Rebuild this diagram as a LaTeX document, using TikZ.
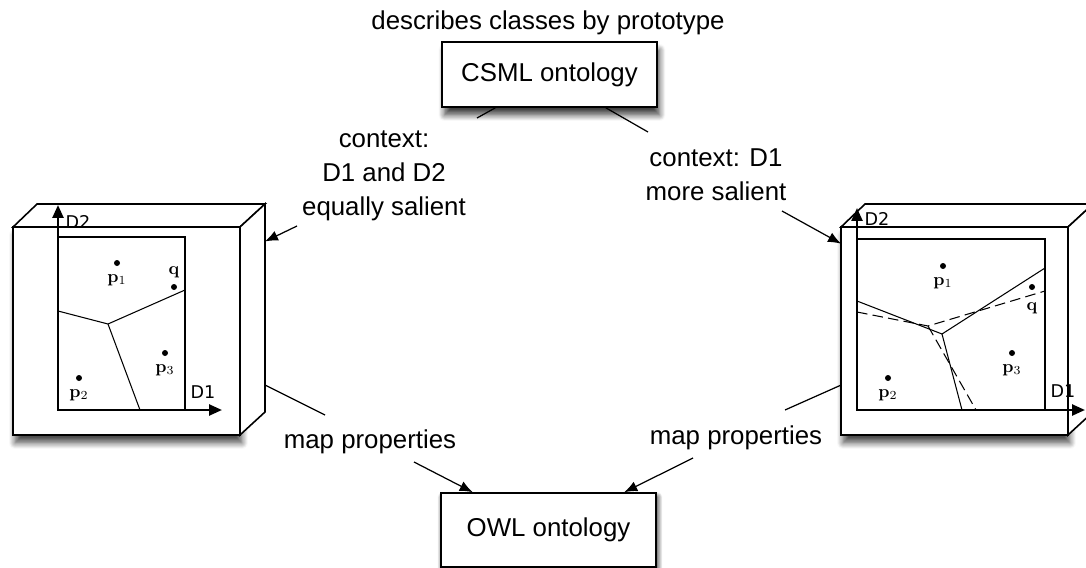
\documentclass[tikz,border=0pt]{standalone}
\usepackage[no-math]{fontspec}
\setmainfont{Liberation Sans}
\newfontfamily\plotfont{DejaVu Sans}
\usetikzlibrary{positioning, calc, arrows.meta, shadows, shadows.blur}

\begin{document}
\begin{tikzpicture}[
	x=0.02cm, y=-0.02cm,
	onto/.style={rectangle, draw, line width=0.9pt, fill=white, inner sep=0pt, minimum width=4.3cm, font=\fontsize{14.7}{18}\selectfont, blur shadow={shadow xshift=0.5mm, shadow yshift=-1.6mm, shadow opacity=75, shadow blur radius=1.2mm, shadow blur steps=8}},
	textb/.style={align=center, inner sep=0pt, font=\fontsize{14.7}{19.5}\selectfont},
	face/.style={draw, line width=0.9pt, fill=white, outer sep=0pt},
	axisline/.style={line width=1.4pt, -{Triangle[length=2.6mm, width=2.2mm]}},
	cell/.style={line width=0.6pt},
	ptdot/.style={circle, fill, inner sep=0pt, minimum size=1.2mm},
	ptname/.style={inner sep=0pt, font=\fontsize{10}{11}\selectfont},
	axname/.style={inner sep=0pt, font=\plotfont\fontsize{10}{11}\selectfont},
	>={Latex[length=2.6mm, width=2.1mm]}
]
\clip (0,0) rectangle (1086,568);

% top and bottom ontologies
\node[textb] (title) at (548,23) {describes classes by prototype};
\node[onto, minimum height=1.3cm] (csml) at (549.5,74.5) {CSML ontology};
\node[onto, minimum height=1.48cm, blur shadow={shadow xshift=0.3mm, shadow yshift=-0.8mm, shadow opacity=55, shadow blur radius=1mm}] (owl) at (548.5,530) {OWL ontology};

% left conceptual space
\node[face, minimum width=4.54cm, minimum height=4.16cm, blur shadow={shadow xshift=0.4mm, shadow yshift=-1.6mm, shadow opacity=70, shadow blur radius=1.2mm, shadow blur steps=8}] (lcube) at (126.5,331) {};
\draw[face] (lcube.north west) -- ++(24,-23) -- ++(228,0) -- (lcube.north east) -- cycle;
\draw[face] (lcube.north east) -- ++(25,-23) -- ++(0,208) -- (lcube.south east) -- cycle;
\coordinate (lback) at ($(lcube.north east)+(25,-23)$);
\coordinate (lbacklow) at ($(lcube.south east)+(25,-23)$);

\draw[cell, line width=0.8pt] (58,237) rectangle (185,410);
\draw[cell] (58,311) -- (108,324) -- (185,290);
\draw[cell] (108,324) -- (140,410);
\draw[axisline] (58,410) -- (58,205);
\draw[axisline] (58,410) -- (222,410);
\node[axname] (ld2) at (78,222) {D2};
\node[axname] (ld1) at (203,392) {D1};

\node[ptdot] (lp1) at (117,263) {};
\node[ptname, below=1.5mm of lp1] {$\mathbf{p}_1$};
\node[ptdot] (lq) at (174,287) {};
\node[ptname, above=1.1mm of lq] {$\mathbf{q}$};
\node[ptdot] (lp3) at (165,353) {};
\node[ptname, below=1.5mm of lp3] {$\mathbf{p}_3$};
\node[ptdot] (lp2) at (79,378) {};
\node[ptname, below=1.5mm of lp2] {$\mathbf{p}_2$};

% right conceptual space
\node[face, minimum width=4.54cm, minimum height=4.16cm, blur shadow={shadow xshift=0.4mm, shadow yshift=-1.6mm, shadow opacity=70, shadow blur radius=1.2mm, shadow blur steps=8}] (rcube) at (954.5,331) {};
\draw[face] (rcube.north west) -- ++(24,-23) -- ++(228,0) -- (rcube.north east) -- cycle;
\draw[face] (rcube.north east) -- ++(25,-23) -- ++(0,208) -- (rcube.south east) -- cycle;

\draw[cell, line width=0.8pt] (857,239) rectangle (1045,410);
\draw[cell] (857,301) -- (942,334) -- (1045,268);
\draw[cell] (942,334) -- (962,410);
\draw[cell, dashed, dash pattern=on 6pt off 3pt] (857,312) -- (928,326) -- (1045,291);
\draw[cell, dashed, dash pattern=on 6pt off 3pt] (928,326) -- (976,410);
\draw[axisline] (857,410) -- (857,208);
\draw[axisline] (857,410) -- (1085,410);
\node[axname] (rd2) at (877,219) {D2};
\node[axname] (rd1) at (1063,391) {D1};

\node[ptdot] (rp1) at (943,266) {};
\node[ptname, below=1.5mm of rp1] {$\mathbf{p}_1$};
\node[ptdot] (rq) at (1032,287) {};
\node[ptname, below=2.3mm of rq] {$\mathbf{q}$};
\node[ptdot] (rp3) at (1012,353) {};
\node[ptname, below=1.5mm of rp3] {$\mathbf{p}_3$};
\node[ptdot] (rp2) at (888,378) {};
\node[ptname, below=1.5mm of rp2] {$\mathbf{p}_2$};

% labels
\node[textb] (ctxleft) at (384,176) {context:\\D1 and D2\\equally salient};
\node[textb] (ctxright) at (716,175) {context: D1\\more salient};
\node[textb] (mapleft) at (370,442) {map properties};
\node[textb] (mapright) at (736,438) {map properties};

\coordinate (csmlleft) at (477,118);
\coordinate (csmlright) at (648,132);
\coordinate (ctxlefttail) at (297,226);
\coordinate (ctxrighttail) at (782,211);
\coordinate (mapleftend) at (325,415);
\coordinate (maplefttail) at (414,462);
\coordinate (maprightend) at (785,410);
\coordinate (maprighttail) at (693,458);

\draw[line width=0.7pt] ($(csml.south west)!0.25!(csml.south east)$) -- (csmlleft);
\draw[line width=0.7pt] ($(csml.south west)!0.76!(csml.south east)$) -- (csmlright);
\draw[->, line width=0.7pt] (ctxlefttail) -- ($(lback)!0.18!(lbacklow)$);
\draw[->, line width=0.7pt] (ctxrighttail) -- ($(rcube.north west)!0.08!(rcube.south west)$);
\draw[line width=0.7pt] ($(lback)!0.87!(lbacklow)$) -- (mapleftend);
\draw[line width=0.7pt] ($(rcube.north west)!0.76!(rcube.south west)$) -- (maprightend);
\draw[->, line width=0.7pt] (maplefttail) -- ($(owl.north west)!0.15!(owl.north east)$);
\draw[->, line width=0.7pt] (maprighttail) -- ($(owl.north west)!0.85!(owl.north east)$);
\end{tikzpicture}
\end{document}
